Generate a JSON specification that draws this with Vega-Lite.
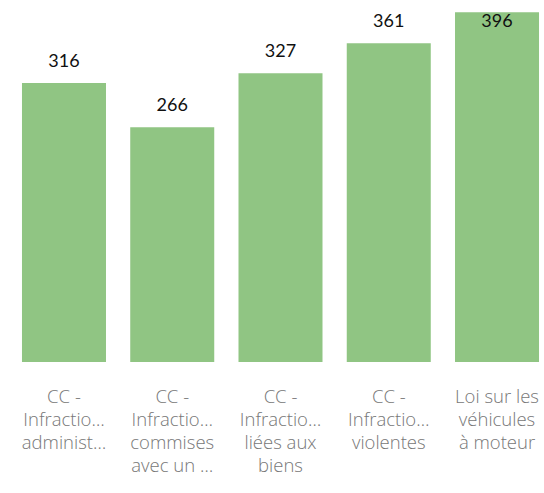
{
  "$schema": "https://vega.github.io/schema/vega-lite/v6.json",
  "autosize": {"type": "none"},
  "padding": {"left": 0, "top": 0, "right": 0, "bottom": 131},
  "width": 544,
  "height": 362,
  "config": {"view": {"stroke": null}},
  "data": {
    "values": [
      {"category": "CC - Infractions administratives", "count": 316},
      {"category": "CC - Infractions commises avec un véhicule", "count": 266},
      {"category": "CC - Infractions liées aux biens", "count": 327},
      {"category": "CC - Infractions violentes", "count": 361},
      {"category": "Loi sur les véhicules à moteur", "count": 396}
    ]
  },
  "encoding": {
    "x": {
      "field": "category",
      "type": "nominal",
      "sort": null,
      "scale": {"range": [0, 561], "paddingInner": 0.224, "paddingOuter": 0.203},
      "axis": {
        "title": null,
        "domain": false,
        "ticks": false,
        "labelAngle": 0,
        "labelPadding": 25,
        "labelFont": "Open Sans",
        "labelFontSize": 18.5,
        "labelFontWeight": 300,
        "labelColor": "#777777",
        "labelLineHeight": 23,
        "labelLimit": 200,
        "labelExpr": "{'CC - Infractions administratives': ['CC -', 'Infractio…', 'administ…'], 'CC - Infractions commises avec un véhicule': ['CC -', 'Infractio…', 'commises', 'avec un …'], 'CC - Infractions liées aux biens': ['CC -', 'Infractio…', 'liées aux', 'biens'], 'CC - Infractions violentes': ['CC -', 'Infractio…', 'violentes'], 'Loi sur les véhicules à moteur': ['Loi sur les', 'véhicules', 'à moteur']}[datum.value]"
      }
    },
    "y": {
      "field": "count",
      "type": "quantitative",
      "scale": {"domain": [0, 410], "nice": false},
      "axis": null
    }
  },
  "layer": [
    {"mark": {"type": "bar", "color": "#90C583"}},
    {
      "transform": [{"filter": "datum.count < 380"}],
      "mark": {"type": "text", "dy": -21, "font": "Lato", "fontSize": 18, "fontWeight": "normal", "color": "#111111", "letterSpacing": 1.5},
      "encoding": {"text": {"field": "count", "type": "quantitative"}}
    },
    {
      "transform": [{"filter": "datum.count >= 380"}],
      "mark": {"type": "text", "dy": 10, "font": "Lato", "fontSize": 18, "fontWeight": "normal", "color": "#111111", "letterSpacing": 1.5},
      "encoding": {"text": {"field": "count", "type": "quantitative"}}
    }
  ]
}
